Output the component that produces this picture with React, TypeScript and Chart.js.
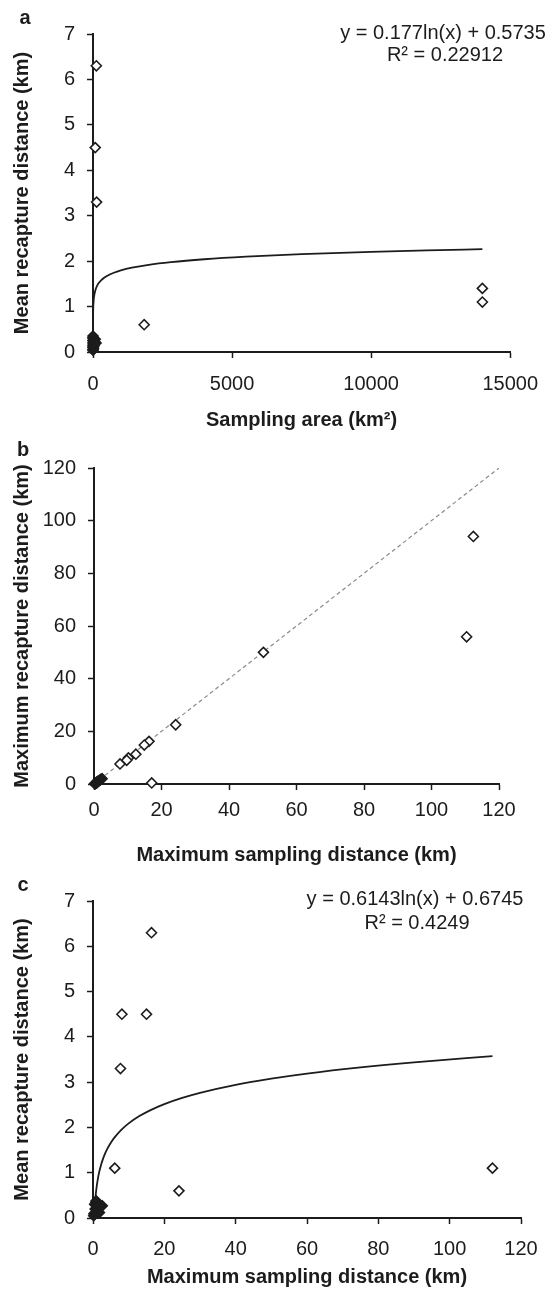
import React, { useEffect, useRef } from 'react';
import { Chart, registerables } from 'chart.js';

Chart.register(...registerables);

const FONT = "'Liberation Sans', Arial, Helvetica, sans-serif";
const INK = '#1c1c1c';

// ---------- Panel a: sampling area vs mean recapture distance ----------
const A_AREA = [120, 80, 130, 1840, 14000, 14000];
const A_MEAN = [6.3, 4.5, 3.3, 0.6, 1.4, 1.1];
const A_AREA_NEAR0 = [0.05, 0.1, 0.2, 0.5, 1, 2, 5, 10, 20, 30, 50, 80, 0.3, 3, 15, 40, 110];
const A_MEAN_NEAR0 = [0.05, 0.1, 0.15, 0.2, 0.25, 0.3, 0.32, 0.12, 0.08, 0.18, 0.22, 0.28, 0.35, 0.04, 0.26, 0.14, 0.2];
const A_FIT_SLOPE = 0.177;
const A_FIT_INTERCEPT = 0.5735;
const A_FIT_X = [0.05, 0.2, 1, 5, 20, 50, 100, 150, 200, 300, 400, 550, 750, 1000, 1400, 2000, 2800, 4000, 5500, 7500, 10000, 12000, 14000];
const A_X_TICKS = [0, 5000, 10000, 15000];
const A_Y_TICKS = [0, 1, 2, 3, 4, 5, 6, 7];

// ---------- Panel b: max sampling distance vs max recapture distance ----------
const B_SAMP = [112.4, 110.4, 50.2, 24.2, 16.3, 14.9, 12.4, 10.2, 9.7, 7.7, 17.1];
const B_RECAP = [94, 55.9, 50, 22.5, 16.2, 14.8, 11.3, 9.9, 9, 7.6, 0.4];
const B_SAMP_NEAR0 = [0.2, 0.3, 0.5, 0.6, 0.8, 1, 1.2, 1.5, 2, 2.4, 0.4, 1.8, 0.9];
const B_RECAP_NEAR0 = [0.1, 0.2, 0.4, 0.3, 0.6, 0.9, 1, 1.3, 1.8, 2, 0.1, 1.5, 0.5];
const B_REF_X = [0, 120];
const B_REF_Y = [0, 120];
const B_X_TICKS = [0, 20, 40, 60, 80, 100, 120];
const B_Y_TICKS = [0, 20, 40, 60, 80, 100, 120];

// ---------- Panel c: max sampling distance vs mean recapture distance ----------
const C_SAMP = [16.4, 8.1, 15, 7.7, 6.1, 24.1, 112];
const C_MEAN = [6.3, 4.5, 4.5, 3.3, 1.1, 0.6, 1.1];
const C_SAMP_NEAR0 = [0.2, 0.3, 0.5, 0.6, 0.8, 1, 1.2, 1.5, 2, 2.6, 0.4, 0.7, 1.8, 0.9];
const C_MEAN_NEAR0 = [0.05, 0.1, 0.3, 0.2, 0.35, 0.15, 0.25, 0.3, 0.28, 0.27, 0.08, 0.32, 0.12, 0.38];
const C_FIT_SLOPE = 0.6143;
const C_FIT_INTERCEPT = 0.6745;
const C_FIT_X = [0.35, 0.5, 0.75, 1, 1.5, 2, 3, 4, 5, 6, 8, 10, 13, 16, 20, 25, 30, 40, 50, 60, 75, 90, 112];
const C_X_TICKS = [0, 20, 40, 60, 80, 100, 120];
const C_Y_TICKS = [0, 1, 2, 3, 4, 5, 6, 7];

const pts = (xs: number[], ys: number[]) => xs.map((x, i) => ({ x, y: ys[i] }));
const logFit = (xs: number[], a: number, b: number) => xs.map((x) => ({ x, y: a * Math.log(x) + b }));

type TextItem = { text: string; x: number; y: number; bold?: boolean; align?: CanvasTextAlign };

type Spec = {
  top: number;
  height: number;
  padTop: number;
  padRight: number;
  yWidth: number;
  xHeight: number;
  xTickPad: number;
  xTitlePad: number;
  xMax: number;
  yMax: number;
  xTicks: number[];
  yTicks: number[];
  xTitle: string;
  yTitle: string;
  datasets: any[];
  texts: TextItem[];
};

const openPoints = (data: { x: number; y: number }[]) => ({
  data,
  pointStyle: 'rectRot',
  pointRadius: 5,
  pointBorderWidth: 1.6,
  pointBorderColor: INK,
  pointBackgroundColor: '#ffffff',
  showLine: false,
  clip: false,
});

const clusterPoints = (data: { x: number; y: number }[]) => ({
  data,
  pointStyle: 'rectRot',
  pointRadius: 5,
  pointBorderWidth: 1.6,
  pointBorderColor: INK,
  pointBackgroundColor: INK,
  showLine: false,
  clip: false,
});

const curve = (data: { x: number; y: number }[], dashed = false) => ({
  data,
  showLine: true,
  pointRadius: 0,
  borderColor: dashed ? '#8a8a8a' : INK,
  borderWidth: dashed ? 1.2 : 1.8,
  borderDash: dashed ? [4, 3] : [],
  cubicInterpolationMode: 'monotone',
  fill: false,
});

const SPECS: Spec[] = [
  {
    top: 0,
    height: 436,
    padTop: 34,
    padRight: 41,
    yWidth: 93,
    xHeight: 84,
    xTickPad: 14,
    xTitlePad: 4,
    xMax: 15000,
    yMax: 7,
    xTicks: A_X_TICKS,
    yTicks: A_Y_TICKS,
    xTitle: 'Sampling area (km²)',
    yTitle: 'Mean recapture distance (km)',
    datasets: [
      openPoints(pts(A_AREA, A_MEAN)),
      clusterPoints(pts(A_AREA_NEAR0, A_MEAN_NEAR0)),
      curve(logFit(A_FIT_X, A_FIT_SLOPE, A_FIT_INTERCEPT)),
    ],
    texts: [
      { text: 'a', x: 25, y: 18, bold: true },
      { text: 'y = 0.177ln(x) + 0.5735', x: 443, y: 33 },
      { text: 'R² = 0.22912', x: 445, y: 55 },
    ],
  },
  {
    top: 436,
    height: 436,
    padTop: 32,
    padRight: 53,
    yWidth: 94,
    xHeight: 88,
    xTickPad: 8,
    xTitlePad: 5,
    xMax: 120,
    yMax: 120,
    xTicks: B_X_TICKS,
    yTicks: B_Y_TICKS,
    xTitle: 'Maximum sampling distance (km)',
    yTitle: 'Maximum recapture distance (km)',
    datasets: [
      openPoints(pts(B_SAMP, B_RECAP)),
      clusterPoints(pts(B_SAMP_NEAR0, B_RECAP_NEAR0)),
      curve(pts(B_REF_X, B_REF_Y), true),
    ],
    texts: [{ text: 'b', x: 23, y: 14, bold: true }],
  },
  {
    top: 872,
    height: 422,
    padTop: 29,
    padRight: 31,
    yWidth: 93,
    xHeight: 76,
    xTickPad: 13,
    xTitlePad: 5,
    xMax: 120,
    yMax: 7,
    xTicks: C_X_TICKS,
    yTicks: C_Y_TICKS,
    xTitle: 'Maximum sampling distance (km)',
    yTitle: 'Mean recapture distance (km)',
    datasets: [
      openPoints(pts(C_SAMP, C_MEAN)),
      clusterPoints(pts(C_SAMP_NEAR0, C_MEAN_NEAR0)),
      curve(logFit(C_FIT_X, C_FIT_SLOPE, C_FIT_INTERCEPT)),
    ],
    texts: [
      { text: 'c', x: 23, y: 13, bold: true },
      { text: 'y = 0.6143ln(x) + 0.6745', x: 415, y: 27 },
      { text: 'R² = 0.4249', x: 417, y: 51 },
    ],
  },
];

const tickFont = { family: FONT, size: 20 };
const titleFont = { family: FONT, size: 20, weight: 'bold' as const };

function makeAxis(
  horizontal: boolean,
  max: number,
  ticks: number[],
  title: string,
  size: number,
  tickPad: number,
  titlePad: any
) {
  return {
    type: 'linear',
    position: horizontal ? 'bottom' : 'left',
    min: 0,
    max,
    afterBuildTicks: (s: any) => {
      s.ticks = ticks.map((v) => ({ value: v }));
    },
    afterFit: (s: any) => {
      if (horizontal) s.height = size;
      else s.width = size;
    },
    ticks: {
      font: tickFont,
      color: INK,
      padding: tickPad,
      autoSkip: false,
      maxRotation: 0,
      callback: (v: any) => String(v),
    },
    grid: {
      display: true,
      drawOnChartArea: false,
      drawTicks: true,
      tickLength: 6,
      tickWidth: 1.5,
      tickColor: INK,
    },
    border: { display: true, color: INK, width: 2 },
    title: { display: true, text: title, color: INK, font: titleFont, padding: titlePad },
  };
}

function Panel({ spec }: { spec: Spec }) {
  const ref = useRef<HTMLCanvasElement | null>(null);
  useEffect(() => {
    const canvas = ref.current;
    if (!canvas) return;
    const textPlugin = {
      id: 'panelText',
      afterDraw(chart: any) {
        const ctx = chart.ctx as CanvasRenderingContext2D;
        ctx.save();
        ctx.fillStyle = INK;
        ctx.textBaseline = 'middle';
        for (const t of spec.texts) {
          ctx.font = `${t.bold ? 'bold ' : ''}20px ${FONT}`;
          ctx.textAlign = t.align || 'center';
          ctx.fillText(t.text, t.x, t.y);
        }
        ctx.restore();
      },
    };
    const chart = new Chart(canvas, {
      type: 'scatter',
      data: { datasets: spec.datasets },
      options: {
        responsive: false,
        maintainAspectRatio: false,
        animation: false,
        events: [],
        layout: { padding: { left: 0, top: spec.padTop, right: spec.padRight, bottom: 0 } },
        plugins: {
          legend: { display: false },
          tooltip: { enabled: false },
          title: { display: false },
        },
        scales: {
          x: makeAxis(true, spec.xMax, spec.xTicks, spec.xTitle, spec.xHeight, spec.xTickPad, {
            top: 0,
            bottom: spec.xTitlePad,
          }),
          y: makeAxis(false, spec.yMax, spec.yTicks, spec.yTitle, spec.yWidth, 12, { top: 10, bottom: 0 }),
        },
      } as any,
      plugins: [textPlugin],
    } as any);
    return () => chart.destroy();
  }, [spec]);
  return (
    <canvas
      ref={ref}
      width={552}
      height={spec.height}
      style={{ position: 'absolute', left: 0, top: spec.top, width: 552, height: spec.height }}
    />
  );
}

export default function App() {
  return (
    <div style={{ position: 'absolute', left: 0, top: 0, width: 552, height: 1294, background: '#ffffff' }}>
      {SPECS.map((s, i) => (
        <Panel key={i} spec={s} />
      ))}
    </div>
  );
}
